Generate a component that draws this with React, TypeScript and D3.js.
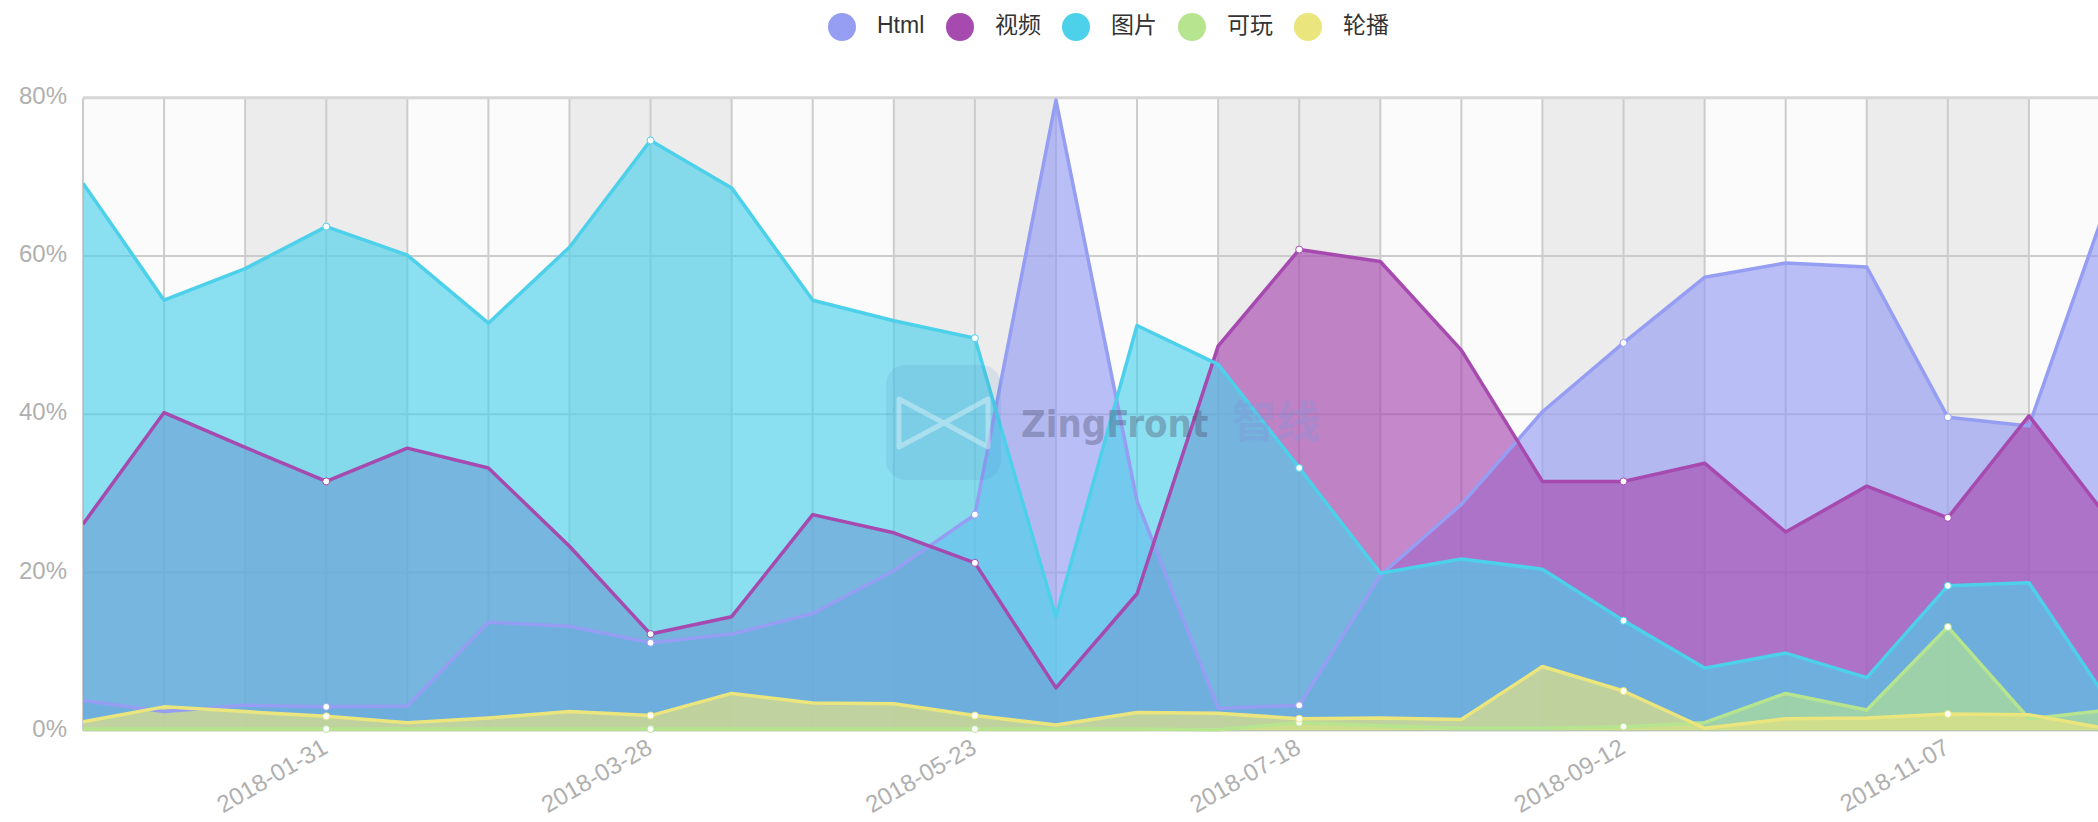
import React from 'react';
import * as d3 from 'd3';

const dates = [
  '2017-12-20', '2018-01-03', '2018-01-17', '2018-01-31', '2018-02-14', '2018-02-28',
  '2018-03-14', '2018-03-28', '2018-04-11', '2018-04-25', '2018-05-09', '2018-05-23',
  '2018-06-06', '2018-06-20', '2018-07-04', '2018-07-18', '2018-08-01', '2018-08-15',
  '2018-08-29', '2018-09-12', '2018-09-26', '2018-10-10', '2018-10-24', '2018-11-07',
  '2018-11-21', '2018-12-05',
];

const htmlValues = [3.8, 2.4, 3.2, 3.0, 3.1, 13.7, 13.2, 11.1, 12.2, 14.8, 20.2, 27.3, 79.7, 29.0, 2.8, 3.2, 19.6, 28.6, 40.3, 49.0, 57.3, 59.1, 58.6, 39.6, 38.5, 67.7];
const videoValues = [26.1, 40.2, 35.8, 31.5, 35.7, 33.2, 23.3, 12.2, 14.4, 27.3, 25.0, 21.2, 5.4, 17.3, 48.6, 60.8, 59.3, 48.1, 31.5, 31.5, 33.8, 25.1, 30.9, 26.9, 39.8, 26.5];
const imageValues = [69.2, 54.4, 58.4, 63.7, 60.1, 51.5, 61.1, 74.6, 68.6, 54.4, 51.8, 49.6, 14.4, 51.2, 46.3, 33.2, 19.9, 21.7, 20.4, 13.9, 7.9, 9.8, 6.7, 18.3, 18.7, 3.4];
const playableValues = [0.2, 0.2, 0.2, 0.2, 0.2, 0.2, 0.2, 0.2, 0.2, 0.2, 0.2, 0.2, 0.2, 0.2, 0.1, 1.0, 0.6, 0.3, 0.3, 0.5, 1.0, 4.7, 2.6, 13.1, 1.5, 2.6];
const carouselValues = [1.1, 3.0, 2.4, 1.8, 1.0, 1.6, 2.4, 1.9, 4.7, 3.5, 3.4, 1.9, 0.7, 2.3, 2.2, 1.5, 1.6, 1.4, 8.1, 5.0, 0.3, 1.5, 1.6, 2.1, 2.0, 0.2];

const seriesNames = ['Html', '视频', '图片', '可玩', '轮播'];
const seriesValues = [htmlValues, videoValues, imageValues, playableValues, carouselValues];
const seriesColors = ['#959ef2', '#a64ab0', '#4dd0ea', '#b6e48f', '#ebe57d'];
const yTicks = [0, 20, 40, 60, 80];

const W = 2098;
const H = 822;
const CHART_W = 2206;
const PLOT_LEFT = 83;
const PLOT_RIGHT = 2110;
const PLOT_TOP = 97.7;
const PLOT_BOTTOM = 730.6;
const FONT = '"Liberation Sans", "Noto Sans CJK SC", Arial, sans-serif';

export default function App() {
  const x = d3.scalePoint<string>().domain(dates).range([PLOT_LEFT, PLOT_RIGHT]);
  const y = d3.scaleLinear().domain([0, 80]).range([PLOT_BOTTOM, PLOT_TOP]);
  const step = x.step();

  const area = d3
    .area<number>()
    .x((_, i) => x(dates[i]) as number)
    .y0(y(0))
    .y1((d) => y(d));
  const line = d3
    .line<number>()
    .x((_, i) => x(dates[i]) as number)
    .y((d) => y(d));

  // alternating split areas every 2 categories
  const bands: { x0: number; x1: number; dark: boolean }[] = [];
  for (let k = 0; k * 2 < dates.length; k++) {
    const x0 = x(dates[k * 2]) as number;
    const x1 = x0 + step * 2;
    bands.push({ x0, x1, dark: k % 2 === 1 });
  }

  // legend layout (ECharts style: 50px icon box, 10px gap to text, 10px item gap)
  const textWidths = seriesNames.map((n) => (n === 'Html' ? 48 : 46));
  const totalLegend = textWidths.reduce((s, w) => s + 50 + 10 + w, 0) + 10 * (seriesNames.length - 1);
  let lx = CHART_W / 2 - totalLegend / 2;
  const legendItems = seriesNames.map((n, i) => {
    const item = { name: n, color: seriesColors[i], boxX: lx, textX: lx + 60 };
    lx += 50 + 10 + textWidths[i] + 10;
    return item;
  });
  const legendY = 27;

  const markerIdx = dates.map((_, i) => i).filter((i) => i % 4 === 3);

  return (
    <div style={{ position: 'fixed', left: 0, top: 0, width: W, height: H, overflow: 'hidden', background: '#fff' }}>
      <svg width={CHART_W} height={H} style={{ display: 'block', fontFamily: FONT }}>
        <defs>
          <clipPath id="plotClip">
            <rect x={PLOT_LEFT} y={PLOT_TOP - 60} width={PLOT_RIGHT - PLOT_LEFT} height={PLOT_BOTTOM - PLOT_TOP + 64} />
          </clipPath>
        </defs>
        {/* split area */}
        {bands.map((b, i) => (
          <rect key={i} x={b.x0} y={PLOT_TOP} width={Math.min(b.x1, PLOT_RIGHT) - b.x0} height={PLOT_BOTTOM - PLOT_TOP}
            fill={b.dark ? '#ececec' : '#fbfbfb'} />
        ))}
        {/* grid lines */}
        {dates.map((d) => (
          <line key={d} x1={x(d)} x2={x(d)} y1={PLOT_TOP} y2={PLOT_BOTTOM} stroke="#cccccc" strokeWidth={2} />
        ))}
        {yTicks.map((t) => (
          <line key={t} x1={PLOT_LEFT} x2={PLOT_RIGHT} y1={y(t)} y2={y(t)} stroke={t === 80 ? '#d6d6d6' : '#cccccc'} strokeWidth={t === 80 ? 3 : 2} />
        ))}
        {/* areas */}
        <g clipPath="url(#plotClip)">
          {seriesValues.map((vals, si) => (
            <path key={'a' + si} d={area(vals) || ''} fill={seriesColors[si]} fillOpacity={0.65} />
          ))}
          {seriesValues.map((vals, si) => (
            <path key={'l' + si} d={line(vals) || ''} fill="none" stroke={seriesColors[si]} strokeWidth={3.5} strokeLinejoin="round" />
          ))}
          {seriesValues.map((vals, si) =>
            markerIdx.map((i) => (
              <circle key={'m' + si + '-' + i} cx={x(dates[i])} cy={y(vals[i])} r={3.5} fill="#ffffff" stroke={seriesColors[si]} strokeWidth={1} />
            ))
          )}
        </g>
        {/* y axis labels */}
        {yTicks.map((t) => (
          <text key={t} x={67} y={y(t)} textAnchor="end" dominantBaseline="middle" fontSize={24} fill="#b0b0b0">
            {t}%
          </text>
        ))}
        {/* x axis labels */}
        {markerIdx.map((i) => (
          <text key={dates[i]} transform={`translate(${x(dates[i])},${PLOT_BOTTOM + 16}) rotate(-30)`} textAnchor="end"
            dominantBaseline="middle" fontSize={24} fill="#b0b0b0">
            {dates[i]}
          </text>
        ))}
        {/* legend */}
        {legendItems.map((it) => (
          <g key={it.name}>
            <circle cx={it.boxX + 25} cy={legendY} r={14} fill={it.color} />
            <text x={it.textX} y={legendY} dominantBaseline="middle" fontSize={23} fill="#333333">
              {it.name}
            </text>
          </g>
        ))}
        {/* watermark */}
        <g>
          <rect x={886} y={365} width={115} height={115} rx={20} fill="rgb(60,130,200)" fillOpacity={0.12} />
          <path d="M899,399 L944,423 L899,447 Z M988,399 L944,423 L988,447 Z" fill="none" stroke="#ffffff" strokeOpacity={0.35} strokeWidth={5} strokeLinejoin="round" />
          <text x={1021} y={426} dominantBaseline="middle" fontSize={38} fontWeight="bold" fill="rgb(80,80,110)" fillOpacity={0.4}
            fontFamily='"DejaVu Sans Condensed", "Liberation Sans Narrow", sans-serif'>
            ZingFront
          </text>
          <text x={1232} y={426} dominantBaseline="middle" fontSize={44} fontWeight="bold" fill="rgb(130,150,220)" fillOpacity={0.35}
            fontFamily='"Noto Sans CJK SC", sans-serif'>
            智线
          </text>
        </g>
      </svg>
    </div>
  );
}
